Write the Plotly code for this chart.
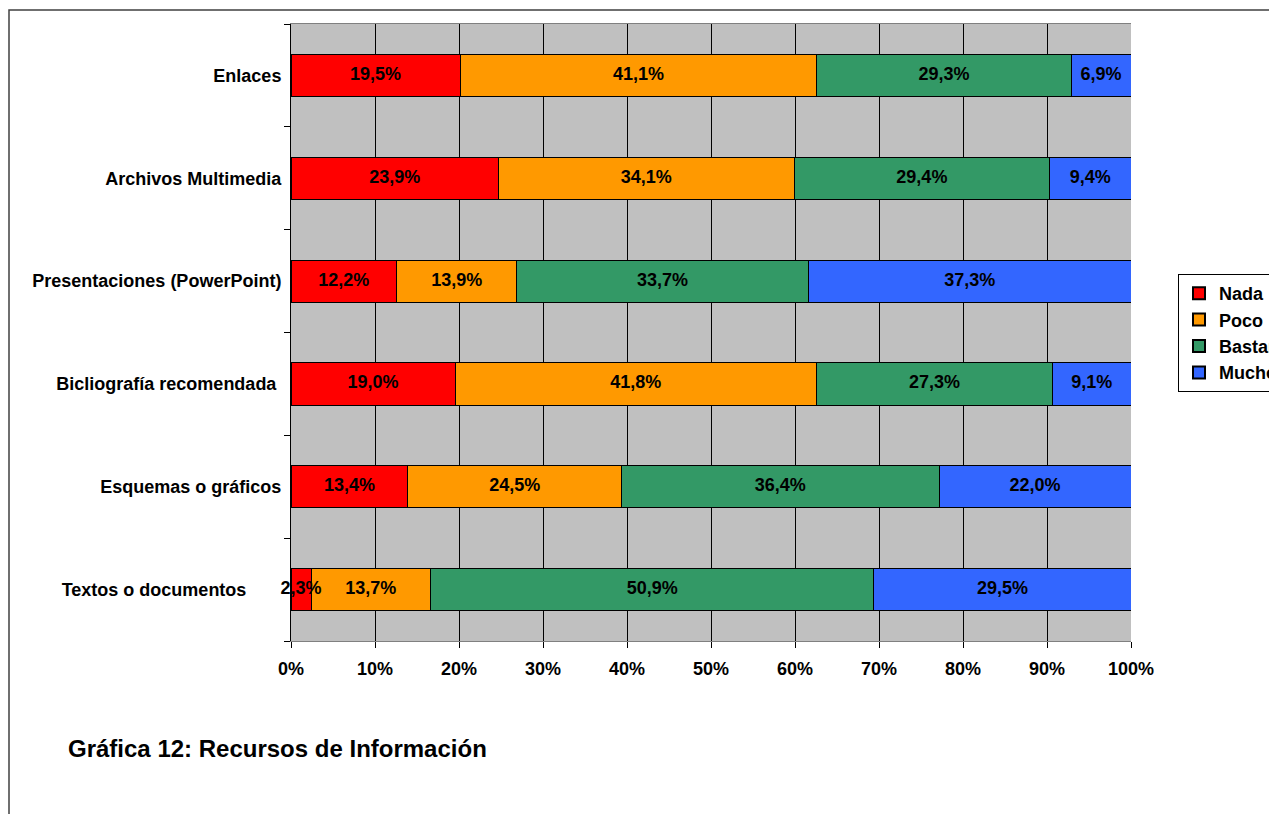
import plotly.graph_objects as go

categories = ["Textos o documentos", "Esquemas o gráficos", "Bicliografía recomendada",
              "Presentaciones (PowerPoint)", "Archivos Multimedia", "Enlaces"]
labels = ["Textos o documentos\u00a0\u00a0\u00a0\u00a0\u00a0\u00a0\u00a0", "Esquemas o gráficos",
          "Bicliografía recomendada\u00a0", "Presentaciones (PowerPoint)",
          "Archivos Multimedia", "Enlaces"]
series_names = ["Nada", "Poco", "Bastante", "Mucho"]
nada = [2.3, 13.4, 19.0, 12.2, 23.9, 19.5]
poco = [13.7, 24.5, 41.8, 13.9, 34.1, 41.1]
bastante = [50.9, 36.4, 27.3, 33.7, 29.4, 29.3]
mucho = [29.5, 22.0, 9.1, 37.3, 9.4, 6.9]
colors = ["#FF0000", "#FF9900", "#339966", "#3366FF"]
x_ticks = [0, 10, 20, 30, 40, 50, 60, 70, 80, 90, 100]

FONT = "Liberation Sans, Arial, sans-serif"
FS = 18

all_series = [nada, poco, bastante, mucho]

fig = go.Figure()
for name, vals, col in zip(series_names, all_series, colors):
    fig.add_trace(go.Bar(
        y=labels, x=vals, name=name, orientation="h",
        marker=dict(color=col, line=dict(color="#000000", width=1)),
        hoverinfo="name+x+y",
    ))

# value labels centred on each (normalised) segment, drawn above the bars
totals = [sum(s[i] for s in all_series) for i in range(len(labels))]
tx, ty, tt = [], [], []
for i, lab in enumerate(labels):
    cum = 0.0
    for s in all_series:
        share = s[i] / totals[i] * 100
        tx.append(cum + share / 2)
        ty.append(lab)
        tt.append(f"{s[i]:.1f}%".replace(".", ","))
        cum += share
fig.add_trace(go.Scatter(
    x=tx, y=ty, text=tt, mode="text", showlegend=False, hoverinfo="skip",
    textposition="middle center", cliponaxis=False,
    textfont=dict(family=FONT, size=FS, color="#000000", weight="bold"),
))

OFF = 8  # page body margin
W, H = 1277, 814
L, R, T, B = 291 - OFF, 1131 - OFF, 24 - OFF, 641 - OFF
pw, ph = R - L, B - T
def px(x): return (x - OFF - L) / pw
def py(y): return (B - (y - OFF)) / ph

fig.update_layout(
    width=W, height=H,
    barmode="stack", barnorm="percent", bargap=0.59,
    margin=dict(l=L, r=W - R, t=T, b=H - B, autoexpand=False),
    paper_bgcolor="white", plot_bgcolor="#C0C0C0",
    font=dict(family=FONT, size=FS, color="#000000"),
    showlegend=True,
    legend=dict(x=px(1178), y=py(274), xanchor="left", yanchor="top",
                bgcolor="white", bordercolor="#000000", borderwidth=1,
                font=dict(family=FONT, size=FS, color="#000000", weight="bold"),
                traceorder="normal", itemsizing="constant", tracegroupgap=0,
                itemwidth=30),
    xaxis=dict(range=[0, 100], tickvals=x_ticks, ticktext=[f"{t}%" for t in x_ticks],
               showgrid=True, gridcolor="#000000", gridwidth=1,
               ticks="outside", ticklen=6, tickcolor="#000000",
               showline=True, linecolor="#808080", linewidth=1, mirror=True,
               tickfont=dict(family=FONT, size=FS, color="#000000", weight="bold"),
               ticklabelstandoff=5, zeroline=False, fixedrange=True),
    yaxis=dict(type="category", categoryorder="array", categoryarray=labels,
               ticks="outside", ticklen=6, tickson="boundaries", tickcolor="#000000",
               showline=True, linecolor="#000000", linewidth=1, showgrid=False,
               tickfont=dict(family=FONT, size=FS, color="#000000", weight="bold"),
               ticklabelstandoff=5, fixedrange=True),
    shapes=[dict(type="rect", xref="paper", yref="paper",
                 x0=px(9), x1=px(1300), y0=py(840), y1=py(10),
                 line=dict(color="#404040", width=1.5), fillcolor="rgba(0,0,0,0)", layer="below")],
    annotations=[dict(text="Gráfica 12: Recursos de Información", xref="paper", yref="paper",
                      x=px(66), y=py(748), xanchor="left", yanchor="middle", showarrow=False,
                      font=dict(family=FONT, size=24, color="#000000", weight="bold"))],
)

fig.write_html("out.html")
